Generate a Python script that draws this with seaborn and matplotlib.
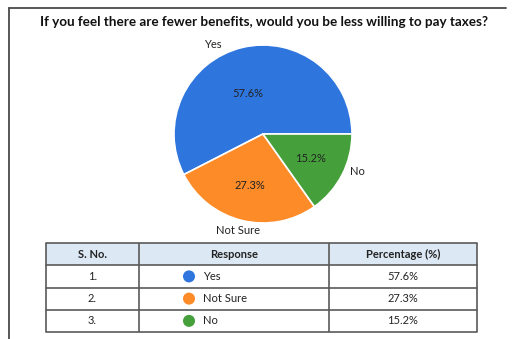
import matplotlib
matplotlib.use("Agg")
import matplotlib.pyplot as plt
import seaborn as sns
import pandas as pd
from matplotlib.patches import Rectangle
from matplotlib.lines import Line2D

# Survey responses
title = "If you feel there are fewer benefits, would you be less willing to pay taxes?"
responses = ["Yes", "Not Sure", "No"]
percentages = [57.6, 27.3, 15.2]
serial_numbers = ["1.", "2.", "3."]
header = ["S. No.", "Response", "Percentage (%)"]
colors = ["#2e76de", "#fd8b28", "#45a03b"]

sns.set_theme(style="white")
plt.rcParams["font.family"] = ["Lato", "DejaVu Sans"]

W, H = 513, 339
fig = plt.figure(figsize=(W / 100, H / 100), dpi=100)
fig.patch.set_facecolor("white")


def px_axes(x0, y0, x1, y1):
    return fig.add_axes([x0 / W, 1 - y1 / H, (x1 - x0) / W, (y1 - y0) / H])


# Outer frame (left and top edges)
frame = fig.add_axes([0, 0, 1, 1])
frame.set_xlim(0, W)
frame.set_ylim(H, 0)
frame.axis("off")
frame.add_line(Line2D([9, 9], [8, H], color="#4a4a4a", lw=1.3))
frame.add_line(Line2D([9, 506], [8, 8], color="#4a4a4a", lw=1.3))

fig.text(264 / W, 1 - 22 / H, title, ha="center", va="center",
         fontsize=9.7, fontweight="bold", color="#111111")

# Pie chart
ax = px_axes(174, 45, 352, 223)
wedges, texts, autotexts = ax.pie(
    percentages, labels=responses, colors=colors, startangle=0,
    counterclock=True, autopct="%1.1f%%", pctdistance=0.6,
    labeldistance=1.1, radius=1,
    wedgeprops=dict(edgecolor="white", linewidth=1.2),
    textprops=dict(fontsize=8, color="#222222"),
)
for t, v in zip(autotexts, percentages):
    t.set_text(f"{v:.1f}%")
ax.set_xlim(-1, 1)
ax.set_ylim(-1, 1)
ax.set_aspect("equal")
texts[0].set_position((-0.56, 1.0))
texts[0].set_ha("center")
texts[2].set_position((1.06, -0.42))
texts[2].set_ha("center")
texts[1].set_position((-0.28, -1.08))
texts[1].set_ha("center")
autotexts[0].set_position((-0.17, 0.46))

# Summary table
tax = px_axes(46, 243, 477, 332)
col_edges = [0, 93, 283, 431]
row_count = len(responses) + 1
tax.add_patch(Rectangle((0, 0), 431, 1, facecolor="#dde8f5", edgecolor="none"))
for y in range(row_count + 1):
    tax.axhline(y, color="#5a5a5a", lw=1.2, clip_on=False)
for x in col_edges:
    tax.vlines(x, 0, row_count, color="#5a5a5a", lw=1.2, clip_on=False)

centers = [(col_edges[i] + col_edges[i + 1]) / 2 for i in range(3)]
for c, h in zip(centers, header):
    tax.text(c, 0.5, h, ha="center", va="center", fontsize=8,
             fontweight="bold", color="#222222")

df = pd.DataFrame({"sn": serial_numbers, "resp": responses,
                   "pct": percentages, "row": [1.5, 2.5, 3.5],
                   "mx": [143] * 3})
sns.scatterplot(data=df, x="mx", y="row", hue="resp", palette=colors,
                s=75, edgecolor="none", legend=False, ax=tax, clip_on=False)
tax.set_xlim(0, 431)
tax.set_ylim(4, 0)
tax.axis("off")
for _, r in df.iterrows():
    tax.text(centers[0], r["row"], r["sn"], ha="center", va="center",
             fontsize=8, color="#222222")
    tax.text(157, r["row"], r["resp"], ha="left", va="center",
             fontsize=8, color="#222222")
    tax.text(centers[2], r["row"], f"{r['pct']:.1f}%", ha="center",
             va="center", fontsize=8, color="#222222")

fig.savefig("out.png", dpi=100)
